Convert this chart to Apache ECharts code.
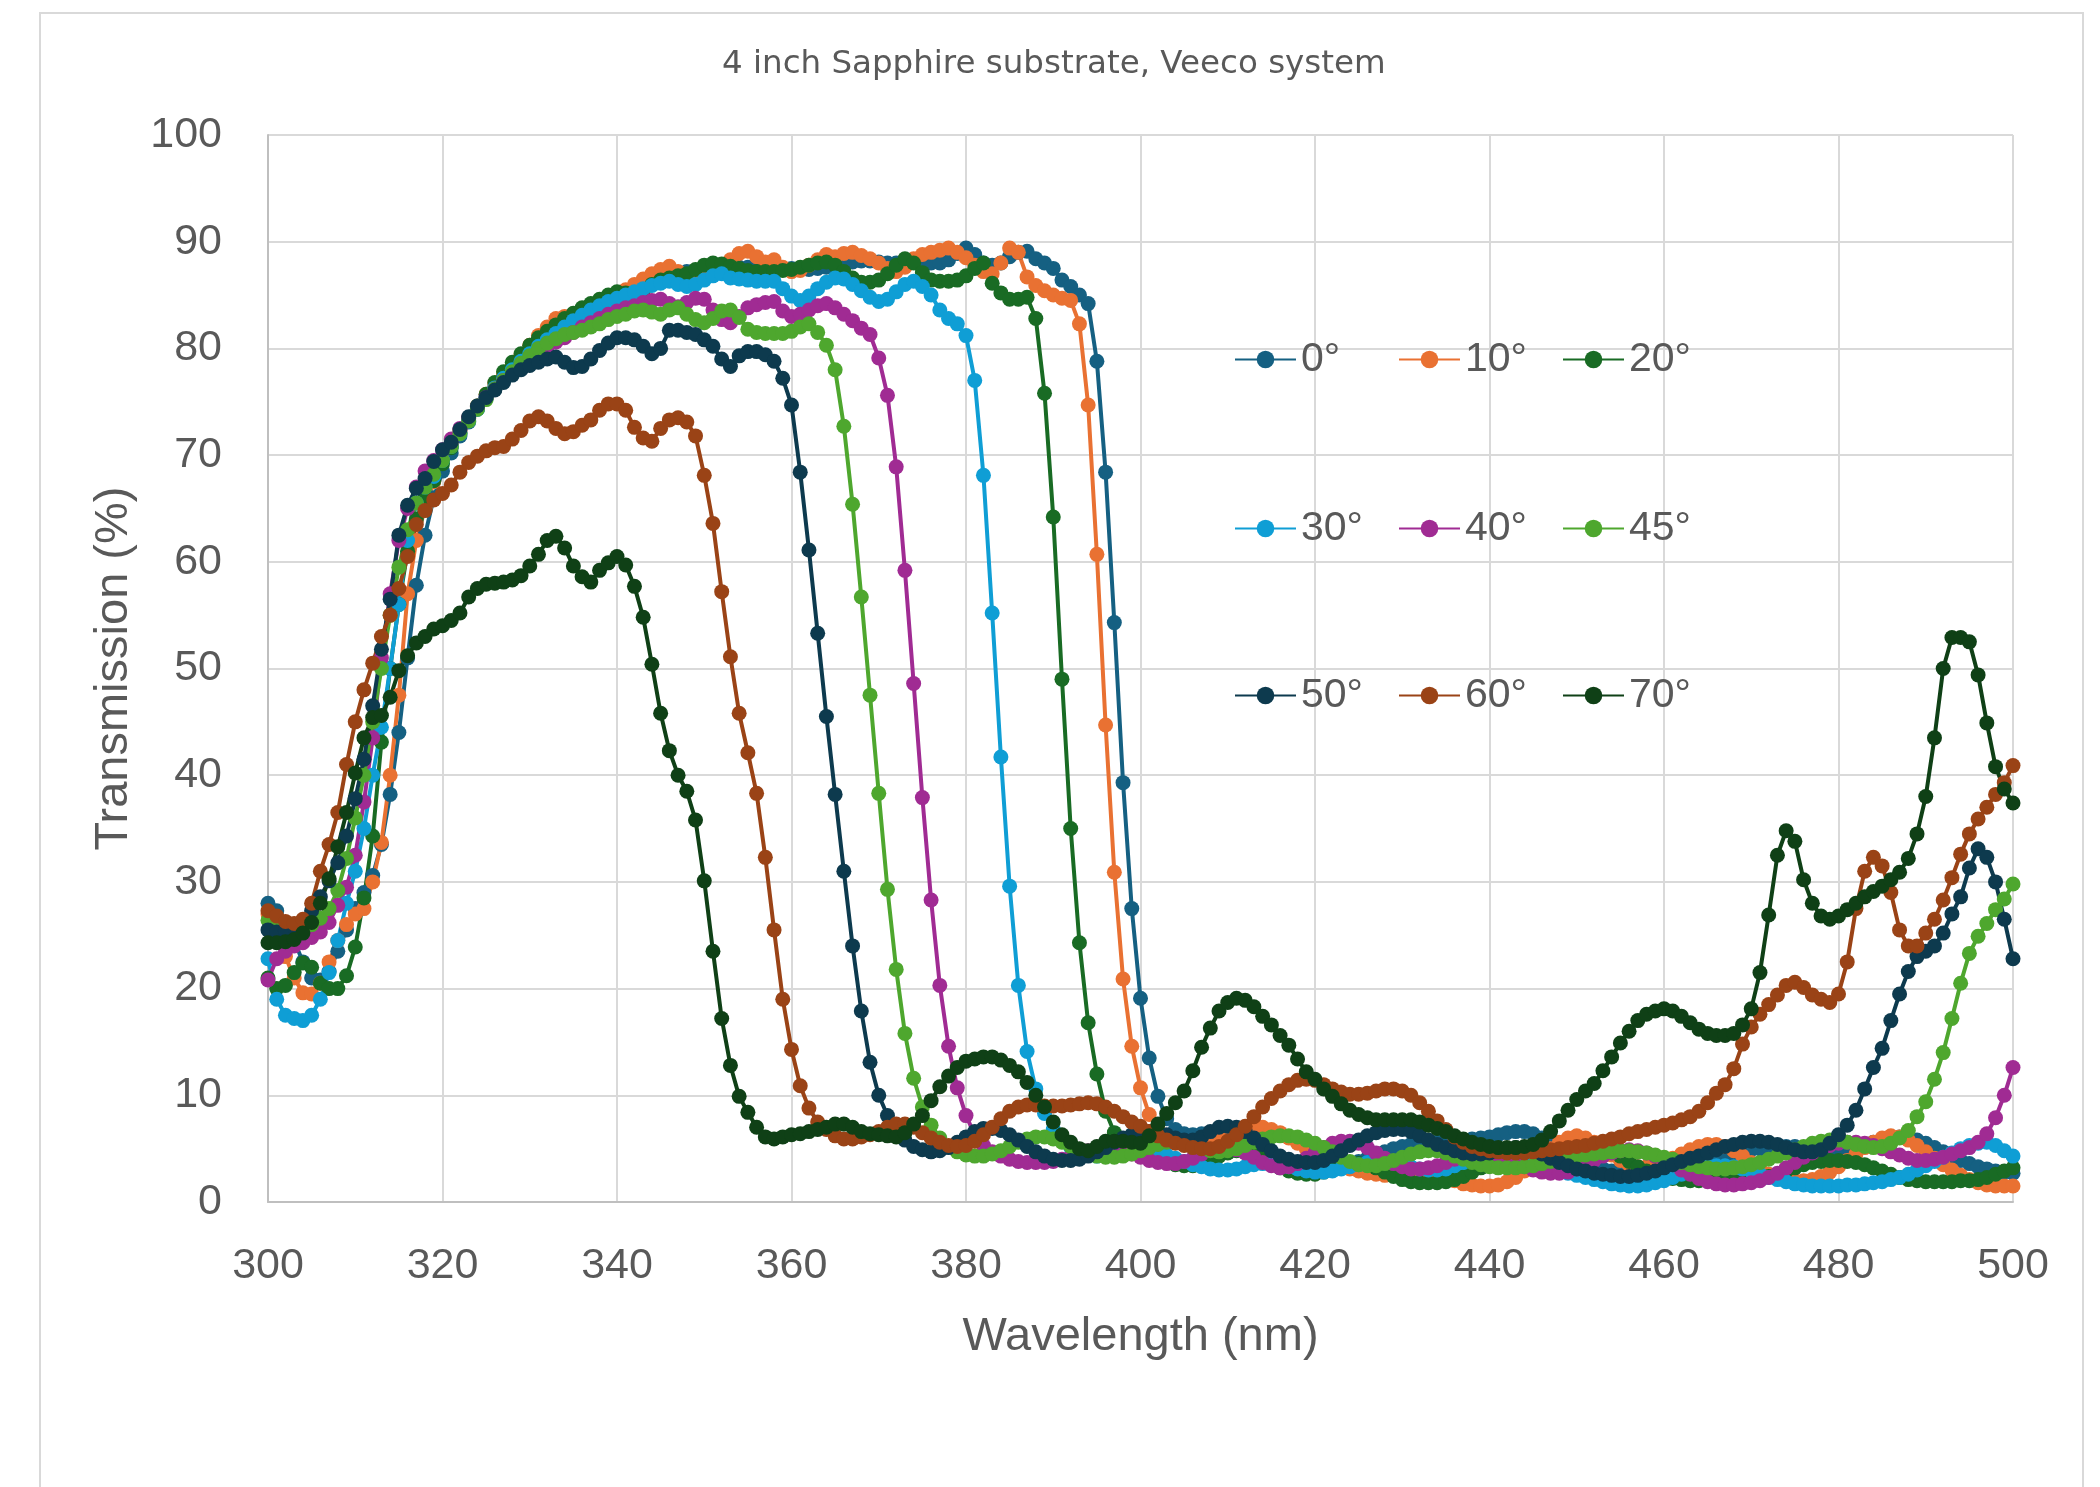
<!DOCTYPE html>
<html>
<head>
<meta charset="utf-8">
<script src="https://cdn.jsdelivr.net/npm/echarts@6/dist/echarts.min.js"></script>
<style>
html,body{margin:0;padding:0;background:#ffffff;}
#chart{width:2100px;height:1487px;}
</style>
</head>
<body>
<div id="chart"></div>
<script>
// ---- DATA ----
const wavelengths = [
  300,301,302,303,304,305,306,307,308,309,310,311,312,313,314,315,316,317,318,319,
  320,321,322,323,324,325,326,327,328,329,330,331,332,333,334,335,336,337,338,339,
  340,341,342,343,344,345,346,347,348,349,350,351,352,353,354,355,356,357,358,359,
  360,361,362,363,364,365,366,367,368,369,370,371,372,373,374,375,376,377,378,379,
  380,381,382,383,384,385,386,387,388,389,390,391,392,393,394,395,396,397,398,399,
  400,401,402,403,404,405,406,407,408,409,410,411,412,413,414,415,416,417,418,419,
  420,421,422,423,424,425,426,427,428,429,430,431,432,433,434,435,436,437,438,439,
  440,441,442,443,444,445,446,447,448,449,450,451,452,453,454,455,456,457,458,459,
  460,461,462,463,464,465,466,467,468,469,470,471,472,473,474,475,476,477,478,479,
  480,481,482,483,484,485,486,487,488,489,490,491,492,493,494,495,496,497,498,499,
  500
];

const seriesNames = ['0°','10°','20°','30°','40°','45°','50°','60°','70°'];

const t0 = [
  28.0,27.3,26.2,24.5,22.5,21.0,20.8,21.6,23.5,25.5,
  27.5,29.0,30.6,33.5,38.2,44.0,51.0,57.8,62.5,66.0,
  68.5,70.2,71.8,73.1,74.3,75.4,76.4,77.3,78.2,79.0,
  79.8,80.5,81.2,81.8,82.4,82.9,83.4,83.8,84.2,84.6,
  85.0,85.3,85.6,85.9,86.2,86.5,86.8,87.0,87.2,87.3,
  87.4,87.5,87.5,87.6,87.6,87.6,87.5,87.5,87.5,87.5,
  87.5,87.4,87.4,87.5,87.6,87.8,88.0,88.1,88.2,88.2,
  88.1,88.0,88.0,88.1,88.2,88.2,88.0,88.0,88.3,88.9,
  89.4,88.8,88.0,87.8,88.0,88.6,89.0,89.1,88.4,88.0,
  87.5,86.4,85.8,85.0,84.2,78.8,68.4,54.3,39.3,27.5,
  19.1,13.5,9.9,7.8,6.8,6.4,6.3,6.4,6.5,6.5,
  6.4,6.1,5.7,5.3,4.9,4.5,4.1,3.8,3.6,3.4,
  3.3,3.3,3.3,3.4,3.6,3.8,4.1,4.4,4.7,5.0,
  5.2,5.4,5.5,5.6,5.6,5.6,5.7,5.8,5.9,6.0,
  6.1,6.3,6.5,6.6,6.6,6.4,6.0,5.5,5.0,4.5,
  4.1,3.7,3.4,3.1,2.9,2.7,2.6,2.5,2.5,2.6,
  2.7,2.9,3.1,3.3,3.6,3.8,4.1,4.3,4.5,4.7,
  4.9,5.0,5.1,5.2,5.2,5.2,5.1,5.0,4.9,4.8,
  4.8,4.9,5.1,5.3,5.6,5.8,6.0,6.1,6.0,5.8,
  5.5,5.1,4.7,4.3,3.9,3.6,3.3,3.1,2.9,2.8,
  2.7
];

const t10 = [
  27.0,25.0,23.0,21.0,19.6,19.5,20.5,22.5,24.5,26.0,
  27.0,27.5,30.0,33.7,40.0,47.5,57.0,62.0,65.0,67.5,
  69.5,71.0,72.3,73.5,74.6,75.7,76.7,77.6,78.5,79.4,
  80.3,81.2,82.0,82.8,83.0,82.6,82.8,83.4,84.0,84.5,
  85.0,85.5,86.0,86.5,87.0,87.4,87.7,87.2,86.8,86.9,
  87.2,87.5,87.8,88.3,88.9,89.1,88.6,88.1,88.3,87.6,
  87.2,87.3,87.8,88.3,88.8,88.6,88.9,89.0,88.7,88.4,
  88.0,87.5,87.2,87.6,88.4,88.8,89.0,89.2,89.4,89.0,
  88.5,87.8,87.2,87.0,88.0,89.4,89.0,86.7,85.9,85.4,
  85.0,84.7,84.5,82.3,74.7,60.7,44.7,30.9,20.9,14.6,
  10.7,8.2,6.8,6.0,5.6,5.5,5.6,5.8,6.1,6.4,
  6.6,6.8,6.9,7.0,7.0,6.8,6.5,6.0,5.5,5.0,
  4.5,4.1,3.7,3.4,3.1,2.9,2.7,2.6,2.5,2.5,
  2.5,2.6,2.8,3.0,2.8,2.4,2.0,1.7,1.6,1.5,
  1.5,1.6,1.9,2.3,2.9,3.6,4.3,5.0,5.6,6.0,
  6.2,6.0,5.6,5.0,4.4,3.9,3.5,3.3,3.3,3.5,
  3.8,4.1,4.5,4.9,5.2,5.4,5.4,5.2,4.8,4.3,
  3.7,3.1,2.6,2.3,2.1,2.0,2.0,2.1,2.4,2.8,
  3.3,3.9,4.5,5.1,5.6,6.0,6.2,6.1,5.8,5.3,
  4.7,4.1,3.5,3.0,2.5,2.1,1.8,1.6,1.5,1.5,
  1.5
];

const t20 = [
  21.0,20.0,20.3,21.5,22.4,22.0,20.5,20.0,20.0,21.2,
  23.9,28.5,34.3,43.1,50.0,56.0,61.0,64.0,66.0,67.6,
  69.2,70.7,72.1,73.4,74.6,75.7,76.8,77.8,78.7,79.5,
  80.3,81.0,81.6,82.2,82.8,83.3,83.8,84.2,84.6,85.0,
  85.3,85.2,84.9,85.3,86.0,86.4,86.6,86.8,87.0,87.4,
  87.8,88.0,87.9,87.7,87.5,87.3,87.2,87.2,87.2,87.3,
  87.4,87.6,87.8,88.0,88.1,87.8,87.2,86.6,86.2,86.2,
  86.4,87.0,87.8,88.4,88.0,87.1,86.4,86.3,86.3,86.4,
  86.8,87.5,88.0,86.1,85.2,84.6,84.6,84.8,82.8,75.8,
  64.2,49.0,35.0,24.3,16.8,12.0,8.5,6.5,5.4,4.8,
  4.5,4.3,4.0,3.7,3.5,3.4,3.4,3.6,3.9,4.3,
  4.6,4.8,4.8,4.6,4.2,3.7,3.2,2.9,2.7,2.6,
  2.6,2.8,3.0,3.3,3.5,3.6,3.5,3.2,2.8,2.4,
  2.1,1.9,1.8,1.8,1.8,1.9,2.1,2.4,2.8,3.2,
  3.6,3.9,4.1,4.2,4.2,4.1,4.0,4.0,4.2,4.5,
  4.8,5.0,5.1,5.0,4.7,4.3,3.8,3.3,2.9,2.6,
  2.4,2.2,2.1,2.0,2.0,2.0,2.0,2.0,2.0,2.0,
  2.1,2.2,2.4,2.6,2.9,3.2,3.5,3.7,3.8,3.9,
  3.9,3.8,3.7,3.5,3.2,2.9,2.6,2.3,2.1,2.0,
  1.9,1.9,1.9,1.9,2.0,2.0,2.1,2.3,2.6,2.9,
  3.2
];

const t30 = [
  22.8,19.0,17.5,17.2,17.0,17.5,19.0,21.5,24.5,28.0,
  31.0,35.0,40.0,44.5,50.0,56.0,62.0,65.5,67.0,68.0,
  69.5,70.8,72.0,73.2,74.3,75.3,76.3,77.2,78.0,78.8,
  79.5,80.2,80.8,81.4,82.0,82.6,83.1,83.6,84.0,84.4,
  84.7,85.0,85.3,85.6,85.9,86.1,86.3,86.0,85.8,86.0,
  86.4,86.8,87.0,86.6,86.5,86.4,86.3,86.3,86.3,85.6,
  84.9,84.5,84.9,85.6,86.2,86.6,86.5,86.0,85.4,84.8,
  84.4,84.6,85.3,86.0,86.3,85.8,85.0,83.6,82.8,82.3,
  81.2,77.0,68.1,55.2,41.7,29.6,20.3,14.1,10.6,8.3,
  6.8,5.8,5.1,4.7,4.4,4.3,4.3,4.4,4.6,4.8,
  4.9,4.9,4.7,4.4,4.1,3.8,3.5,3.3,3.1,3.0,
  3.0,3.1,3.3,3.5,3.6,3.6,3.5,3.3,3.1,2.9,
  2.8,2.8,2.9,3.1,3.3,3.5,3.7,3.8,3.8,3.7,
  3.5,3.3,3.1,3.0,3.0,3.1,3.4,3.7,4.1,4.5,
  4.8,5.0,5.0,4.8,4.5,4.1,3.7,3.3,3.0,2.7,
  2.5,2.3,2.1,1.9,1.7,1.6,1.5,1.5,1.6,1.8,
  2.0,2.3,2.6,2.9,3.1,3.3,3.4,3.4,3.3,3.1,
  2.9,2.6,2.3,2.1,1.9,1.7,1.6,1.5,1.5,1.5,
  1.5,1.6,1.6,1.7,1.8,1.9,2.1,2.3,2.6,3.0,
  3.4,3.8,4.2,4.6,5.0,5.3,5.5,5.6,5.3,4.8,
  4.3
];

const t40 = [
  20.8,22.8,23.5,24.0,24.3,24.8,25.3,26.2,27.8,29.5,
  32.5,37.5,43.5,51.0,57.0,62.0,65.0,67.0,68.5,69.5,
  70.5,71.5,72.5,73.5,74.5,75.4,76.2,77.0,77.7,78.4,
  79.0,79.6,80.1,80.6,81.0,81.5,82.0,82.4,82.8,83.2,
  83.5,83.8,84.0,84.3,84.5,84.6,84.2,83.9,84.3,84.7,
  84.6,83.6,82.7,82.4,83.0,83.8,84.1,84.3,84.4,83.5,
  83.0,83.2,83.6,84.0,84.2,83.8,83.2,82.6,81.9,81.3,
  79.1,75.6,68.9,59.2,48.6,37.9,28.3,20.3,14.6,10.7,
  8.1,6.3,5.3,4.7,4.3,4.0,3.8,3.7,3.7,3.7,
  3.8,4.0,4.2,4.5,4.8,5.0,5.1,5.0,4.8,4.5,
  4.2,3.9,3.7,3.6,3.6,3.8,4.1,4.5,4.9,5.1,
  5.1,4.9,4.6,4.2,3.7,3.4,3.2,3.3,3.6,4.1,
  4.6,5.1,5.5,5.7,5.7,5.5,5.1,4.6,4.1,3.6,
  3.3,3.1,3.1,3.2,3.4,3.7,4.0,4.3,4.5,4.6,
  4.6,4.4,4.1,3.7,3.3,3.0,2.8,2.7,2.7,2.8,
  3.1,3.5,3.9,4.3,4.6,4.8,4.9,4.8,4.6,4.3,
  3.9,3.5,3.0,2.6,2.2,1.9,1.7,1.6,1.6,1.7,
  1.8,2.0,2.3,2.7,3.2,3.7,4.2,4.6,5.0,5.3,
  5.5,5.6,5.6,5.5,5.3,5.0,4.7,4.4,4.1,3.9,
  3.9,4.0,4.2,4.5,4.8,5.1,5.6,6.4,7.9,10.0,
  12.6
];

const t45 = [
  26.4,26.0,25.7,25.6,25.8,26.0,26.6,27.5,29.2,32.2,
  36.0,40.0,45.0,50.0,55.0,59.5,63.0,65.5,67.0,68.2,
  69.5,70.8,72.0,73.2,74.3,75.2,76.2,77.0,77.8,78.6,
  79.3,80.0,80.5,80.9,81.3,81.5,81.7,82.0,82.3,82.7,
  83.0,83.2,83.5,83.6,83.4,83.2,83.6,83.8,83.2,82.7,
  82.4,82.8,83.5,83.6,82.9,81.8,81.5,81.4,81.4,81.4,
  81.6,82.0,82.3,81.5,80.3,78.0,72.7,65.4,56.7,47.5,
  38.3,29.3,21.8,15.8,11.6,8.9,7.2,6.0,5.2,4.7,
  4.4,4.3,4.3,4.5,4.8,5.2,5.6,5.9,6.1,6.1,
  5.9,5.6,5.2,4.8,4.5,4.3,4.2,4.2,4.3,4.5,
  4.8,5.1,5.4,5.6,5.7,5.6,5.4,5.1,4.8,4.7,
  4.8,5.0,5.3,5.6,5.9,6.1,6.2,6.2,6.1,5.8,
  5.5,5.1,4.7,4.2,3.8,3.5,3.4,3.4,3.6,3.9,
  4.2,4.5,4.7,4.8,4.8,4.6,4.3,4.0,3.7,3.5,
  3.3,3.2,3.2,3.2,3.3,3.4,3.6,3.8,4.0,4.2,
  4.3,4.4,4.5,4.6,4.7,4.8,4.8,4.7,4.6,4.4,
  4.2,4.0,3.7,3.5,3.3,3.2,3.1,3.1,3.2,3.3,
  3.5,3.7,4.0,4.3,4.6,4.9,5.2,5.5,5.7,5.8,
  5.8,5.6,5.4,5.2,5.1,5.2,5.5,6.0,6.7,8.0,
  9.4,11.5,14.0,17.2,20.5,23.3,24.9,26.1,27.4,28.4,
  29.8
];

const t50 = [
  25.5,25.3,25.4,25.8,26.4,27.3,28.6,30.1,31.8,34.3,
  37.8,41.5,46.5,51.8,56.5,62.5,65.3,66.9,67.8,69.4,
  70.5,71.2,72.4,73.6,74.6,75.4,76.1,76.8,77.5,78.0,
  78.4,78.7,79.0,79.2,78.7,78.2,78.3,79.0,79.8,80.5,
  81.0,81.0,80.8,80.2,79.5,80.0,81.7,81.7,81.5,81.3,
  80.8,80.2,79.0,78.3,79.3,79.7,79.7,79.4,78.8,77.2,
  74.7,68.4,61.1,53.3,45.5,38.2,31.0,24.0,17.9,13.1,
  10.0,8.1,6.8,5.8,5.2,4.9,4.7,4.8,5.1,5.6,
  6.1,6.6,6.9,6.9,6.7,6.3,5.8,5.2,4.7,4.3,
  4.0,3.9,3.9,4.0,4.3,4.7,5.1,5.6,6.0,6.3,
  6.5,6.6,6.5,6.3,6.0,5.8,5.8,6.1,6.6,7.0,
  7.1,7.0,6.6,6.0,5.4,4.8,4.3,4.0,3.8,3.7,
  3.7,3.9,4.3,4.8,5.3,5.8,6.2,6.5,6.7,6.8,
  6.8,6.6,6.2,5.8,5.4,5.1,4.8,4.6,4.5,4.5,
  4.6,4.8,5.0,5.1,5.0,4.8,4.5,4.1,3.7,3.4,
  3.1,2.9,2.7,2.6,2.5,2.4,2.4,2.5,2.7,2.9,
  3.2,3.5,3.8,4.1,4.3,4.6,4.9,5.2,5.4,5.6,
  5.7,5.7,5.6,5.4,5.1,4.9,4.7,4.7,4.9,5.5,
  6.3,7.2,8.6,10.6,12.6,14.4,17.0,19.5,21.6,23.0,
  23.5,24.0,25.2,27.0,28.6,31.3,33.1,32.3,30.0,26.5,
  22.8
];

const t60 = [
  27.3,26.8,26.3,26.1,26.5,28.0,31.0,33.5,36.5,41.0,
  45.0,48.0,50.5,53.0,55.0,57.5,60.5,63.5,64.8,65.8,
  66.4,67.2,68.4,69.3,69.9,70.4,70.7,70.8,71.5,72.3,
  73.2,73.6,73.2,72.5,72.0,72.2,72.8,73.3,74.2,74.8,
  74.8,74.2,72.6,71.6,71.3,72.5,73.3,73.5,73.1,71.8,
  68.1,63.6,57.2,51.1,45.8,42.1,38.3,32.3,25.5,19.0,
  14.3,10.9,8.8,7.5,6.8,6.2,5.9,5.9,6.1,6.3,
  6.6,7.0,7.3,7.3,7.0,6.5,6.0,5.6,5.3,5.2,
  5.3,5.7,6.3,7.0,7.8,8.5,8.9,9.1,9.1,9.0,
  9.0,9.0,9.1,9.2,9.3,9.2,8.9,8.5,8.0,7.5,
  7.1,6.6,6.2,5.8,5.5,5.3,5.1,5.0,5.0,5.2,
  5.7,6.3,7.1,8.0,8.9,9.7,10.4,11.0,11.4,11.5,
  11.4,11.0,10.6,10.3,10.1,10.1,10.2,10.4,10.6,10.6,
  10.4,10.0,9.3,8.5,7.6,6.8,6.1,5.6,5.2,5.0,
  4.8,4.7,4.6,4.6,4.6,4.7,4.8,4.9,5.0,5.1,
  5.2,5.3,5.5,5.7,5.9,6.1,6.4,6.6,6.8,7.0,
  7.2,7.4,7.7,8.0,8.5,9.3,10.2,11.0,12.5,14.8,
  16.4,17.6,18.5,19.4,20.3,20.6,20.1,19.4,19.0,18.7,
  19.5,22.5,27.5,31.0,32.3,31.5,29.0,25.5,24.0,24.0,
  25.2,26.5,28.3,30.4,32.6,34.5,35.9,37.0,38.2,39.3,
  40.9
];

const t70 = [
  24.3,24.3,24.4,24.6,25.2,26.2,28.0,30.3,33.3,36.5,
  40.2,43.5,45.4,45.6,47.3,49.8,51.2,52.4,53.0,53.7,
  54.0,54.5,55.2,56.7,57.5,57.9,58.0,58.1,58.3,58.7,
  59.6,60.7,62.0,62.4,61.3,59.6,58.6,58.1,59.2,59.9,
  60.5,59.7,57.7,54.8,50.4,45.8,42.3,40.0,38.5,35.8,
  30.1,23.5,17.2,12.8,9.9,8.4,7.0,6.1,5.9,6.1,
  6.3,6.4,6.6,6.8,7.0,7.3,7.3,7.0,6.6,6.4,
  6.3,6.2,6.1,6.5,7.3,8.1,9.5,10.8,11.8,12.6,
  13.2,13.4,13.6,13.6,13.3,12.8,12.2,11.2,10.0,8.9,
  7.5,6.3,5.6,5.0,4.8,5.2,5.7,5.7,5.7,5.6,
  5.5,6.2,7.3,8.3,9.3,10.4,12.3,14.5,16.3,17.9,
  18.7,19.1,18.9,18.3,17.4,16.6,15.6,14.7,13.4,12.2,
  11.5,10.6,9.9,9.2,8.6,8.2,7.9,7.7,7.7,7.7,
  7.7,7.7,7.5,7.2,6.9,6.6,6.2,5.9,5.6,5.4,
  5.2,5.1,5.1,5.1,5.2,5.4,5.8,6.6,7.6,8.6,
  9.6,10.4,11.1,12.3,13.6,14.9,16.0,17.0,17.6,17.9,
  18.1,17.9,17.4,16.8,16.2,15.8,15.6,15.6,15.8,16.6,
  18.1,21.5,26.9,32.5,34.8,33.8,30.2,28.0,26.8,26.5,
  26.8,27.4,28.0,28.6,29.1,29.6,30.2,30.9,32.2,34.5,
  38.0,43.5,50.0,52.9,52.9,52.5,49.4,44.9,40.8,38.7,
  37.4
];

const seriesValues = [t0, t10, t20, t30, t40, t45, t50, t60, t70];

// ---- STYLE ----
const seriesColors = ['#156082','#E97132','#196B24','#0F9ED5','#A02B93','#4EA72E','#0D3A4E','#9A4316','#0F4016'];
const font = "'Liberation Sans', Arial, sans-serif";
const textColor = '#595959';
const legendCols = [1234, 1398, 1562];
const legendRows = [339, 508, 675];

const chart = echarts.init(document.getElementById('chart'), null, {renderer: 'canvas'});

const option = {
  animation: false,
  backgroundColor: '#ffffff',
  title: {
    text: '4 inch Sapphire substrate, Veeco system',
    left: 717,
    top: 43,
    padding: 5,
    textStyle: {fontFamily: "'DejaVu Sans', sans-serif", fontSize: 32.5, fontWeight: 'normal', color: textColor}
  },
  graphic: [{
    type: 'rect',
    silent: true,
    z: -10,
    shape: {x: 40, y: 13, width: 2043, height: 1500},
    style: {fill: 'none', stroke: '#d9d9d9', lineWidth: 2}
  }],
  legend: seriesNames.map((n, i) => ({
    data: [n],
    left: legendCols[i % 3],
    top: legendRows[Math.floor(i / 3)],
    padding: 0,
    itemGap: 0,
    itemWidth: 61,
    itemHeight: 22,
    selectedMode: false,
    textStyle: {fontFamily: font, fontSize: 41, color: textColor}
  })),
  grid: {left: 268, right: 87, top: 135, bottom: 285, containLabel: false},
  xAxis: {
    type: 'value',
    min: 300, max: 500, interval: 20,
    name: 'Wavelength (nm)',
    nameLocation: 'middle',
    nameGap: 112,
    nameTextStyle: {fontFamily: font, fontSize: 47, color: textColor},
    axisLine: {show: true, lineStyle: {color: '#bfbfbf', width: 2}},
    axisTick: {show: false},
    axisLabel: {fontFamily: font, fontSize: 43, color: textColor, margin: 43},
    splitLine: {show: true, lineStyle: {color: '#d9d9d9', width: 2}}
  },
  yAxis: {
    type: 'value',
    min: 0, max: 100, interval: 10,
    name: 'Transmission (%)',
    nameLocation: 'middle',
    nameGap: 130,
    nameRotate: 90,
    nameTextStyle: {fontFamily: font, fontSize: 47, color: textColor},
    axisLine: {show: true, lineStyle: {color: '#bfbfbf', width: 2}},
    axisTick: {show: false},
    axisLabel: {fontFamily: font, fontSize: 43, color: textColor, margin: 46},
    splitLine: {show: true, lineStyle: {color: '#d9d9d9', width: 2}}
  },
  series: seriesNames.map((n, i) => ({
    name: n,
    type: 'line',
    data: wavelengths.map((w, j) => [w, seriesValues[i][j]]),
    symbol: 'circle',
    symbolSize: 15,
    showSymbol: true,
    showAllSymbol: true,
    lineStyle: {width: 4, color: seriesColors[i]},
    itemStyle: {color: seriesColors[i]},
    emphasis: {disabled: true}
  }))
};

chart.setOption(option);
</script>
</body>
</html>
